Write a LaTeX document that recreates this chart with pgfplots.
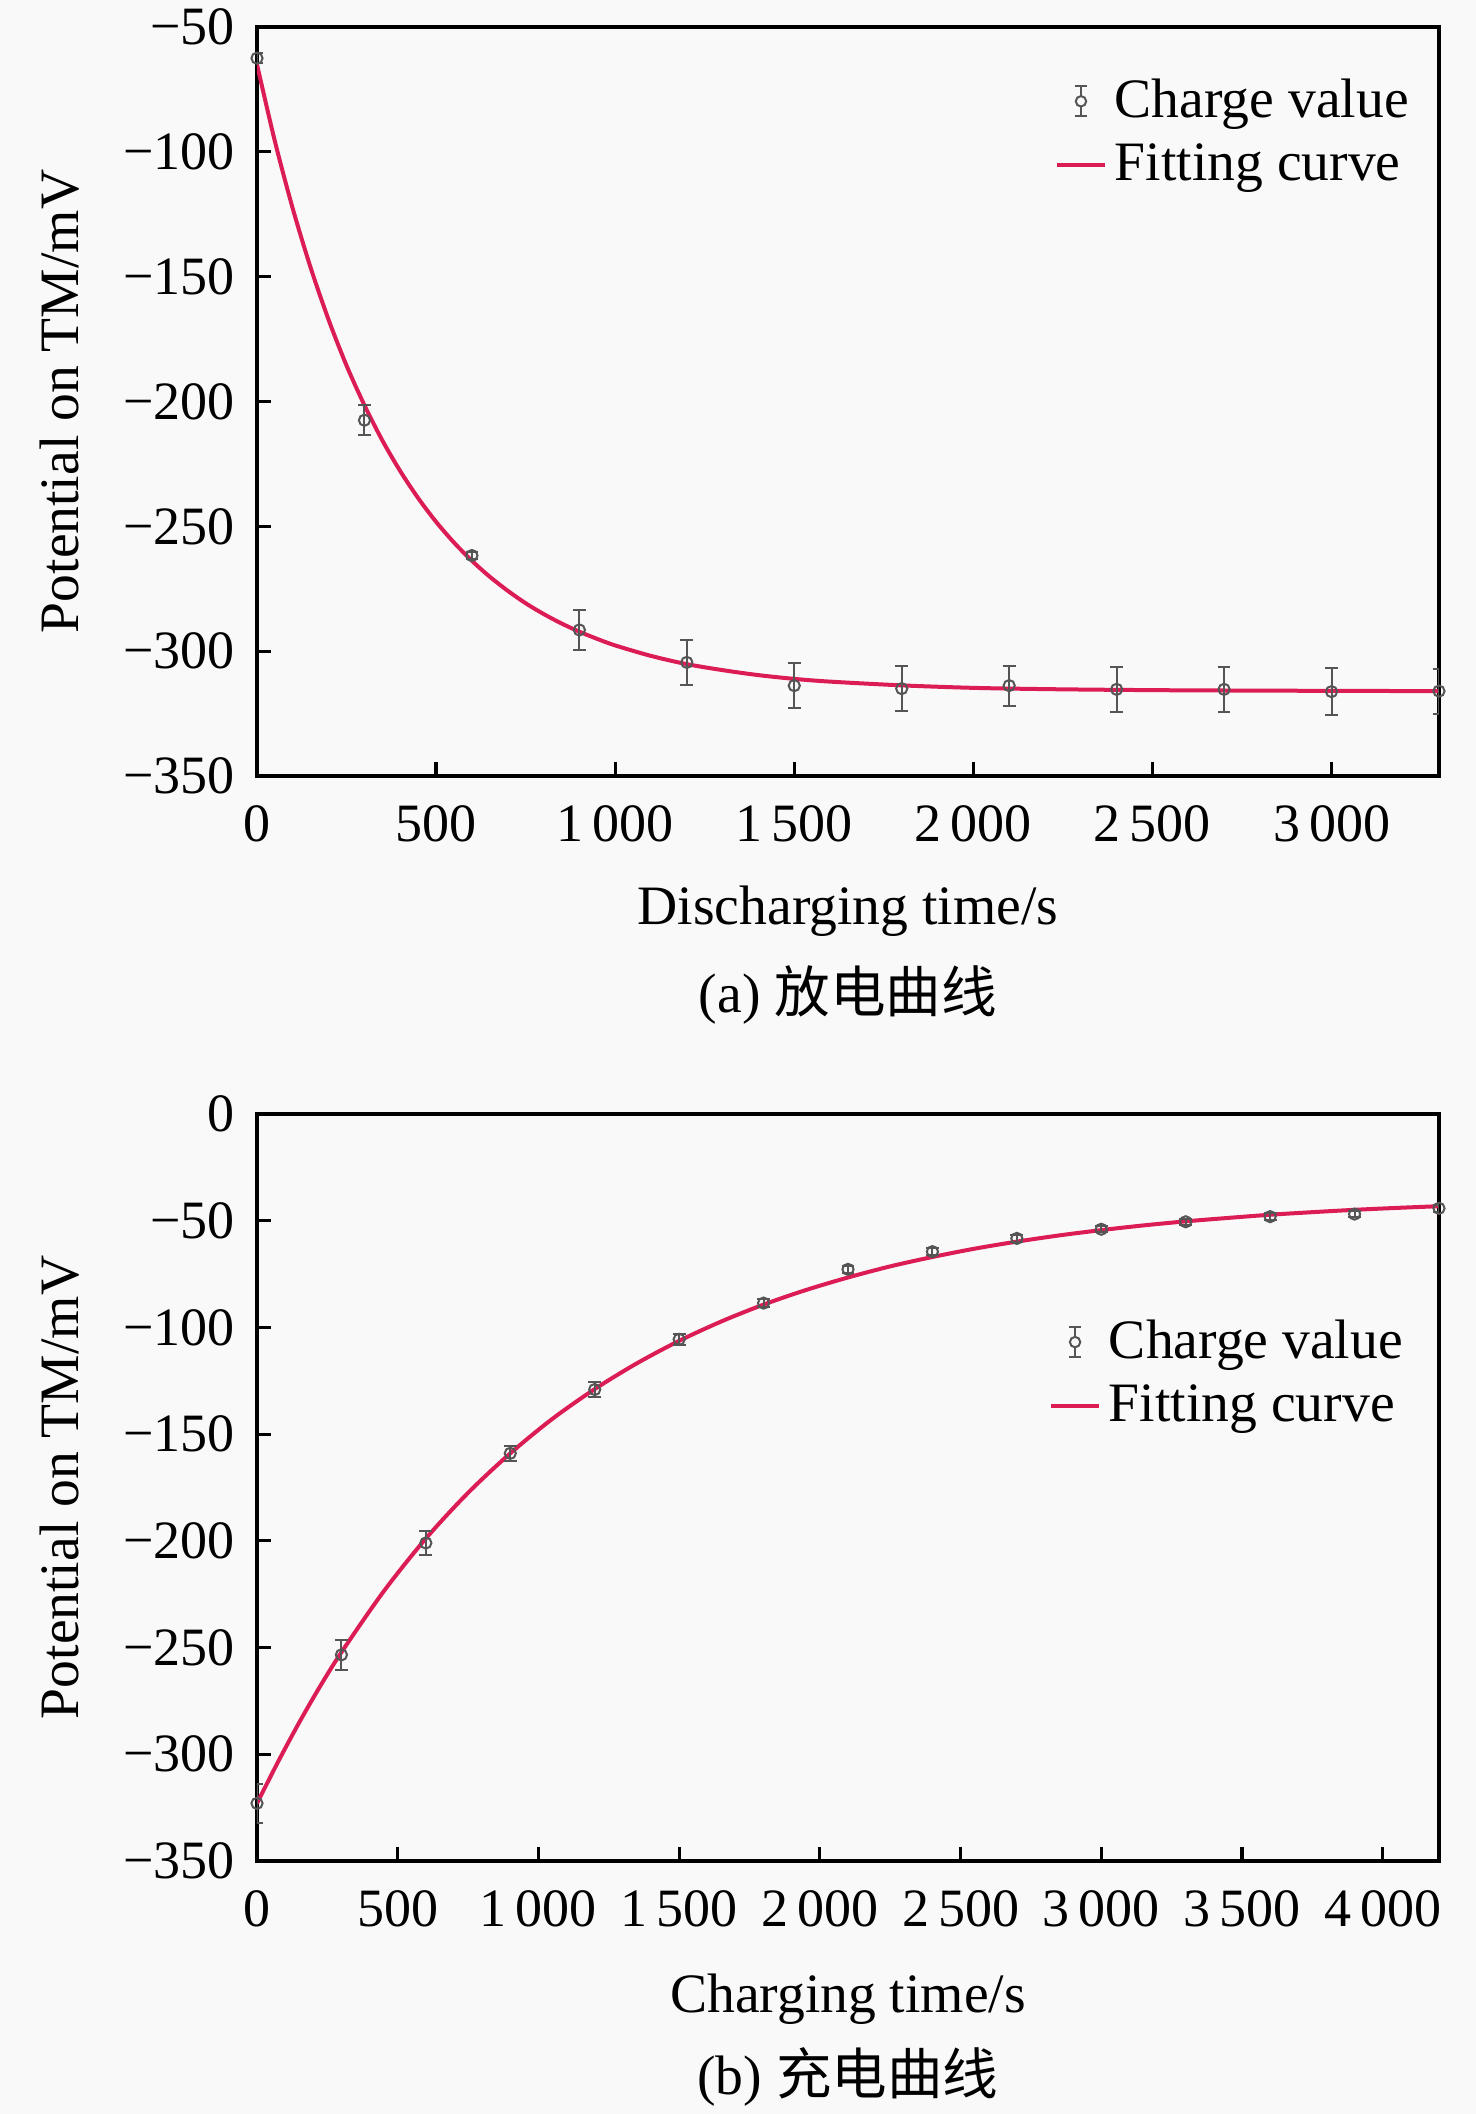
\documentclass[border=0pt]{standalone}
\usepackage{fontspec}
\setmainfont{Liberation Serif}
\newfontfamily\cjk{Noto Sans CJK SC}
\usepackage{pgfplots}
\usepackage{pgfplotstable}
\pgfplotsset{compat=1.18}
\definecolor{fitcol}{RGB}{220,28,85}
\definecolor{datacol}{RGB}{85,85,85}
\definecolor{bgcol}{RGB}{249,249,249}

% discharging: measured values
\pgfplotstableread{
t v e
0 -62.5 2
300 -207.5 6
600 -261.7 1.5
900 -291.5 8
1200 -304.5 9
1500 -313.8 9
1800 -315 9
2100 -313.8 8
2400 -315.3 9
2700 -315.3 9
3000 -316.2 9.5
3300 -316 9
}\disdata
% discharging: fitted curve
\pgfplotstableread{
t v
0 -65.0
50 -95.8
100 -122.8
150 -146.5
200 -167.3
250 -185.6
300 -201.5
350 -215.6
400 -227.9
450 -238.7
500 -248.2
550 -256.5
600 -263.8
650 -270.2
700 -275.8
750 -280.8
800 -285.1
850 -288.9
900 -292.2
950 -295.1
1000 -297.7
1100 -301.9
1200 -305.2
1300 -307.6
1400 -309.6
1500 -311.1
1600 -312.2
1800 -313.7
2000 -314.7
2200 -315.2
2400 -315.5
2600 -315.7
2800 -315.8
3000 -315.9
3300 -316.0
}\disfit
% charging: measured values
\pgfplotstableread{
t v e
0 -323 9
300 -253.4 7
600 -201 5.5
900 -159 3.5
1200 -129.1 3.5
1500 -105.6 2.5
1800 -88.6 2
2100 -72.8 1.5
2400 -64.5 1.5
2700 -58.3 1.5
3000 -54.0 1.5
3300 -50.5 1.5
3600 -48.1 1.5
3900 -46.9 1.5
4200 -44.2 1.5
}\chadata
% charging: fitted curve
\pgfplotstableread{
t v
0 -323.0
75 -303.5
150 -285.1
225 -268.0
300 -252.2
450 -223.7
600 -198.9
750 -177.5
900 -159.0
1050 -142.8
1200 -128.9
1350 -116.8
1500 -106.3
1650 -97.2
1800 -89.3
1950 -82.5
2100 -76.6
2250 -71.4
2400 -67.0
2550 -63.1
2700 -59.8
2850 -56.9
3000 -54.4
3150 -52.2
3300 -50.3
3450 -48.7
3600 -47.2
3750 -46.0
3900 -44.9
4050 -44.0
4200 -43.2
}\chafit

\pgfplotsset{
  myaxis/.style={
    scale only axis,
    width=295.5pt,
    axis line style={line width=1pt},
    tick align=inside,
    tick pos=left,
    major tick length=3.5pt,
    tick style={line width=0.8pt, black},
    ticklabel style={font=\fontsize{13.5}{16}\selectfont},
    xticklabel style={yshift=-3.8pt},
    yticklabel style={xshift=-2pt},
    label style={font=\fontsize{13.9}{16.5}\selectfont},
    title style={font=\fontsize{13.9}{16.5}\selectfont},
    axis background/.style={fill=bgcol},
    legend cell align=left,
    reverse legend,
    legend style={draw=none, fill=none, font=\fontsize{13.9}{16.5}\selectfont, row sep=1pt},
  },
  datalegend/.style={
    legend image code/.code={
      \draw[datacol, line width=0.5pt] (0.21cm,-3.8pt) -- (0.21cm,3.8pt);
      \draw[datacol, line width=0.5pt] (0.21cm-1.5pt,-3.8pt) -- (0.21cm+1.5pt,-3.8pt);
      \draw[datacol, line width=0.5pt] (0.21cm-1.5pt,3.8pt) -- (0.21cm+1.5pt,3.8pt);
      \draw[datacol, line width=0.5pt, fill=bgcol] (0.21cm,0pt) circle (1.3pt);
    }
  },
  fitlegend/.style={
    legend image code/.code={
      \draw[fitcol, line width=1pt] (0cm,0cm) -- (0.42cm,0cm);
    }
  },
  datastyle/.style={
    datalegend,
    datacol, only marks, mark=o, mark size=1.4pt,
    mark options={line width=0.5pt, datacol},
    error bars/.cd, y dir=both, y explicit,
    error bar style={line width=0.5pt, datacol},
    error mark options={datacol, line width=0.5pt, mark size=1.6pt, rotate=90},
    /pgfplots/.cd,
  },
}

\begin{document}
\begin{tikzpicture}
\fill[bgcol] (0,0) rectangle (369pt,528.5pt);
\useasboundingbox (0,0) rectangle (369pt,528.5pt);

% (a) discharging
\begin{axis}[myaxis,
  at={(64.25pt,334.5pt)}, anchor=south west,
  height=187.25pt,
  xmin=0, xmax=3300, ymin=-350, ymax=-50,
  xtick={0,500,1000,1500,2000,2500,3000},
  xticklabels={0,500,1\,000,1\,500,2\,000,2\,500,3\,000},
  ytick={-350,-300,-250,-200,-150,-100,-50},
  yticklabels={−350,−300,−250,−200,−150,−100,−50},
  xlabel={Discharging time/s},
  xlabel style={at={(axis description cs:0.5,0)}, anchor=base, yshift=-37.25pt},
  ylabel={Potential on TM/mV},
  ylabel style={at={(axis description cs:-0.1514,0.5)}, anchor=base},
  title={(a) {\cjk 放电曲线}},
  title style={at={(axis description cs:0.5,0)}, anchor=base, yshift=-65.25pt},
  legend style={at={(axis description cs:0.992,0.953)}, anchor=north east},
]
\addplot[fitcol, line width=1pt, smooth, fitlegend] table[x=t, y=v] {\disfit};
\addlegendentry{Fitting curve}
\addplot[datastyle] table[x=t, y=v, y error=e] {\disdata};
\addlegendentry{Charge value}
\end{axis}

% (b) charging
\begin{axis}[myaxis,
  at={(64.25pt,63.25pt)}, anchor=south west,
  height=186.75pt,
  xmin=0, xmax=4200, ymin=-350, ymax=0,
  xtick={0,500,1000,1500,2000,2500,3000,3500,4000},
  xticklabels={0,500,1\,000,1\,500,2\,000,2\,500,3\,000,3\,500,4\,000},
  ytick={-350,-300,-250,-200,-150,-100,-50,0},
  yticklabels={−350,−300,−250,−200,−150,−100,−50,0},
  xlabel={Charging time/s},
  xlabel style={at={(axis description cs:0.5,0)}, anchor=base, yshift=-38pt},
  ylabel={Potential on TM/mV},
  ylabel style={at={(axis description cs:-0.1514,0.5)}, anchor=base},
  title={(b) {\cjk 充电曲线}},
  title style={at={(axis description cs:0.5,0)}, anchor=base, yshift=-64.5pt},
  legend style={at={(axis description cs:0.987,0.747)}, anchor=north east},
]
\addplot[fitcol, line width=1pt, smooth, fitlegend] table[x=t, y=v] {\chafit};
\addlegendentry{Fitting curve}
\addplot[datastyle] table[x=t, y=v, y error=e] {\chadata};
\addlegendentry{Charge value}
\end{axis}
\end{tikzpicture}
\end{document}
